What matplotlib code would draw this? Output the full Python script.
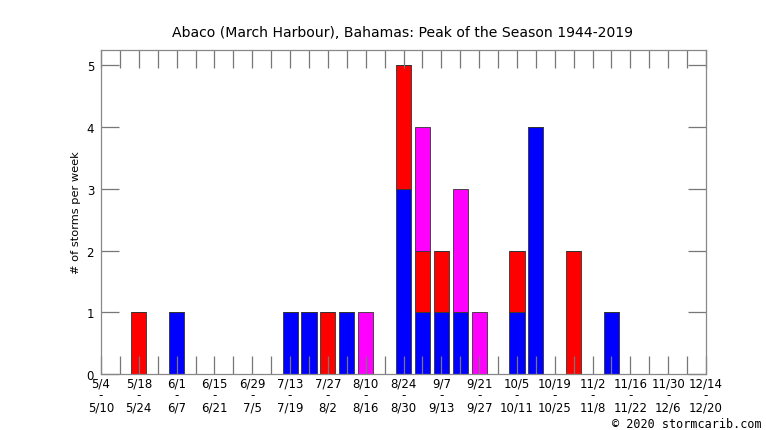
import numpy as np
import matplotlib
matplotlib.use("Agg")
import matplotlib.pyplot as plt
from matplotlib.ticker import MultipleLocator

# week index 0 = 5/4, one slot per week up to 12/14 (index 32)
week_starts = ["5/4", "5/18", "6/1", "6/15", "6/29", "7/13", "7/27", "8/10", "8/24",
               "9/7", "9/21", "10/5", "10/19", "11/2", "11/16", "11/30", "12/14"]
week_ends = ["5/10", "5/24", "6/7", "6/21", "7/5", "7/19", "8/2", "8/16", "8/30",
             "9/13", "9/27", "10/11", "10/25", "11/8", "11/22", "12/6", "12/20"]

weeks = np.arange(33)
# storms per week, stacked blue / red / magenta
blue = np.zeros(33)
red = np.zeros(33)
magenta = np.zeros(33)
blue[[4, 10, 11, 13, 16, 17, 18, 19, 22, 23, 27]] = [1, 1, 1, 1, 3, 1, 1, 1, 1, 4, 1]
red[[2, 12, 16, 17, 18, 22, 25]] = [1, 1, 2, 1, 1, 1, 2]
magenta[[14, 17, 19, 20]] = [1, 2, 2, 1]

title = "Abaco (March Harbour), Bahamas: Peak of the Season 1944-2019"

fig = plt.figure(figsize=(7.66, 4.31), dpi=100)
ax = fig.add_axes([101 / 766, 1 - 375 / 431, 605 / 766, 324 / 431])

edge = dict(edgecolor="#333333", linewidth=0.6, width=0.8, zorder=2)
ax.bar(weeks, blue, color="#0000ff", **edge)
ax.bar(weeks, red, bottom=blue, color="#ff0000", **edge)
ax.bar(weeks, magenta, bottom=blue + red, color="#ff00ff", **edge)

ax.set_xlim(0, 32)
ax.set_ylim(0, 5.25)

ax.set_xticks(range(0, 33, 2))
ax.set_xticklabels(["%s\n-\n%s" % (a, b) for a, b in zip(week_starts, week_ends)],
                   linespacing=0.9)
ax.xaxis.set_minor_locator(MultipleLocator(1))
ax.set_yticks(range(6))

tick_col = "#777777"
ax.tick_params(axis="both", which="both", direction="in", length=13, width=0.9,
               color=tick_col, labelsize=8.5, top=True, right=True)
ax.tick_params(axis="x", which="both", pad=1.5)
ax.tick_params(axis="y", pad=5)
for s in ax.spines.values():
    s.set_color("#888888")
    s.set_linewidth(0.9)
    s.set_zorder(3)
ax.set_axisbelow(False)

ax.set_ylabel("# of storms per week", fontsize=8.2, labelpad=4)
fig.text(403 / 766, 1 - 33 / 431, title, ha="center", va="center", fontsize=10.1)
fig.text(762 / 766, 1 - 425 / 431, "\u00a9 2020 stormcarib.com", ha="right", va="center",
         fontsize=8.5, family="DejaVu Sans Mono")

fig.savefig("out.png", dpi=100)
